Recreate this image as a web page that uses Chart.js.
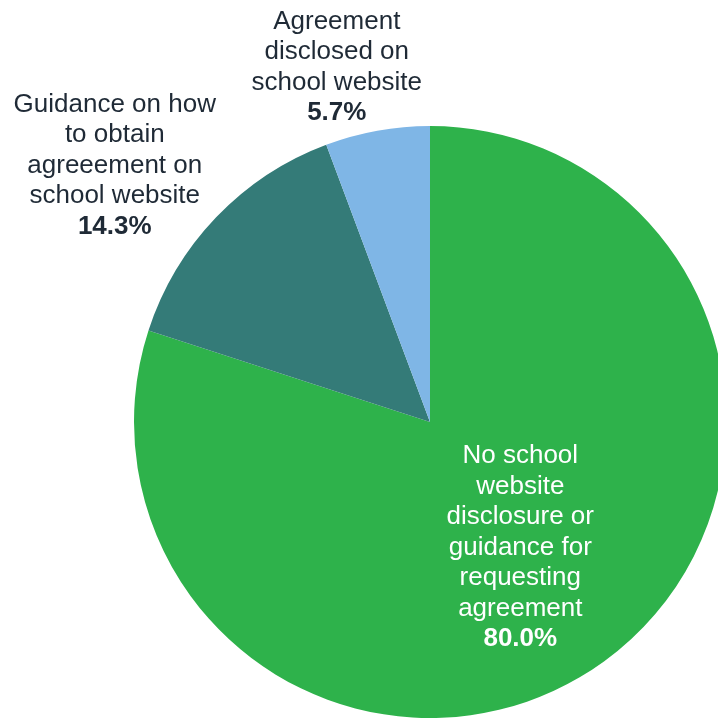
<!DOCTYPE html>
<html>
<head>
<meta charset="utf-8">
<script src="https://cdn.jsdelivr.net/npm/chart.js@4"></script>
<style>
  html, body { margin: 0; padding: 0; background: #fff; overflow: hidden; }
  #wrap { width: 740px; height: 719px; }
</style>
</head>
<body>
<div id="wrap"><canvas id="my-chart" width="740" height="719"></canvas></div>
<script>
const categories = [
  "No school website disclosure or guidance for requesting agreement",
  "Guidance on how to obtain agreeement on school website",
  "Agreement disclosed on school website"
];
const shares = [80.0, 14.3, 5.7];
const colors = ["#2EB24B", "#347B78", "#7FB6E6"];

// wrapped label lines, as in the picture
const labelLines = [
  ["No school", "website", "disclosure or", "guidance for", "requesting", "agreement"],
  ["Guidance on how", "to obtain", "agreeement on", "school website"],
  ["Agreement", "disclosed on", "school website"]
];

// label anchors relative to pie centre, in units of radius
const labelSpots = [
  { dx: 0.305, dy: 0.115, color: "#ffffff" },
  { dx: -1.065, dy: -1.072, color: "#1F2A36" },
  { dx: -0.315, dy: -1.352, color: "#1F2A36" }
];

const pieLabels = {
  id: "pieLabels",
  afterDatasetsDraw(chart) {
    const arc = chart.getDatasetMeta(0).data[0];
    const cx = arc.x, cy = arc.y, r = arc.outerRadius;
    const ctx = chart.ctx;
    const lh = 30.5;
    ctx.save();
    ctx.textAlign = "center";
    ctx.textBaseline = "middle";
    labelLines.forEach((lines, i) => {
      const spot = labelSpots[i];
      const x = cx + spot.dx * r;
      let y = cy + spot.dy * r;
      ctx.fillStyle = spot.color;
      ctx.font = "26px 'Liberation Sans', Arial, sans-serif";
      lines.forEach((t) => {
        ctx.fillText(t, x, y);
        y += lh;
      });
      ctx.font = "bold 26px 'Liberation Sans', Arial, sans-serif";
      ctx.fillText(shares[i].toFixed(1) + "%", x, y);
    });
    ctx.restore();
  }
};

const ctx = document.getElementById("my-chart").getContext("2d");
const chart = new Chart(ctx, {
  type: "pie",
  data: {
    labels: categories,
    datasets: [
      {
        data: shares,
        backgroundColor: colors,
        borderWidth: 0,
      },
    ],
  },
  options: {
    responsive: false,
    animation: false,
    layout: { padding: { left: 134, right: 14, top: 126, bottom: 1 } },
    plugins: {
      legend: { display: false },
      tooltip: { enabled: false },
    },
  },
  plugins: [pieLabels],
});
</script>
</body>
</html>
